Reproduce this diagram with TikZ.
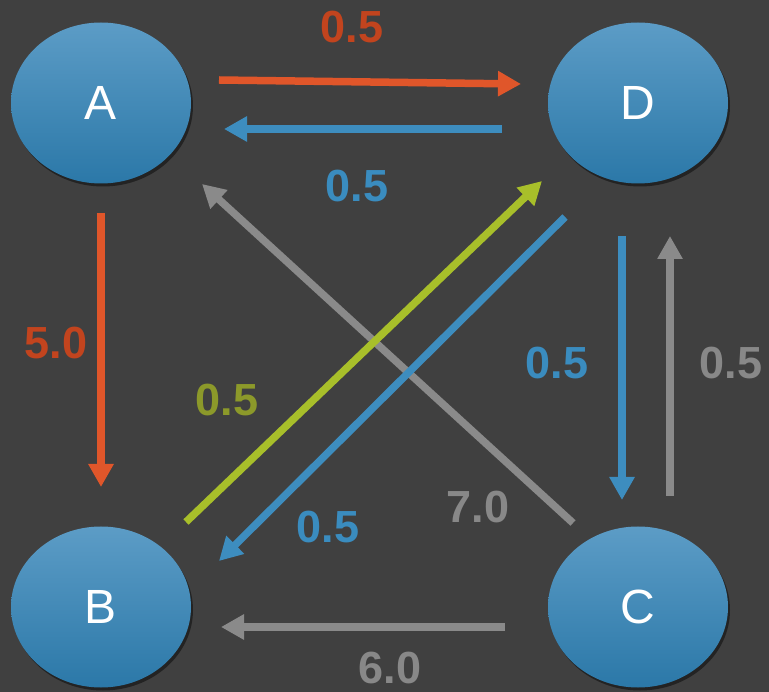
\documentclass[tikz,border=0pt]{standalone}
\usepackage{fontspec}
\setmainfont{Liberation Sans}
\usetikzlibrary{shapes.geometric,arrows.meta,shadows}
\definecolor{bg}{HTML}{404040}
\definecolor{nodetop}{HTML}{5C9CC6}
\definecolor{nodebot}{HTML}{2B78A8}
\definecolor{orline}{HTML}{E0562A}
\definecolor{orlab}{HTML}{C2441E}
\definecolor{blline}{HTML}{3D8DBF}
\definecolor{bllab}{HTML}{3A8CBF}
\definecolor{grline}{HTML}{8A8A8A}
\definecolor{grlab}{HTML}{888888}
\definecolor{gnline}{HTML}{A8BF2A}
\definecolor{gnlab}{HTML}{8C992A}
\tikzset{
  state/.style={ellipse, minimum width=180pt, minimum height=161pt, inner sep=0pt,
    top color=nodetop, bottom color=nodebot, draw=none,
    drop shadow={shadow xshift=2pt, shadow yshift=-3pt, opacity=0.45, fill=black},
    text=white, font=\fontsize{48}{48}\selectfont},
  edge/.style={line width=7.5pt, -{Triangle[length=23pt,width=24pt]}},
  wlab/.style={font=\fontsize{45}{45}\selectfont\bfseries, inner sep=0pt}
}
\begin{document}
\begin{tikzpicture}[x=1pt,y=-1pt]
\fill[bg] (0,0) rectangle (769,692);
\useasboundingbox (0,0) rectangle (769,692);
\node[state] (A) at (101,103) {A};
\node[state] (D) at (638,103) {D};
\node[state] (B) at (101,607) {B};
\node[state] (C) at (638,607) {C};
% connector end points
\coordinate (ad1) at (219,80);  \coordinate (ad2) at (521,84);
\coordinate (da1) at (502,129); \coordinate (da2) at (224,129);
\coordinate (ab1) at (101,213); \coordinate (ab2) at (101,487);
\coordinate (bd1) at (186,522); \coordinate (bd2) at (542,181);
\coordinate (db1) at (565,217); \coordinate (db2) at (219,561);
\coordinate (ca1) at (573,523); \coordinate (ca2) at (202,184);
\coordinate (dc1) at (622,236); \coordinate (dc2) at (622,500);
\coordinate (cd1) at (670,496); \coordinate (cd2) at (670,236);
\coordinate (cb1) at (505,627); \coordinate (cb2) at (221,627);
\draw[edge, grline] (ca1) -- (ca2);
\draw[edge, gnline] (bd1) -- (bd2);
\draw[edge, blline] (db1) -- (db2);
\draw[edge, orline] (ad1) -- (ad2);
\draw[edge, blline] (da1) -- (da2);
\draw[edge, orline] (ab1) -- (ab2);
\draw[edge, blline] (dc1) -- (dc2);
\draw[edge, grline] (cd1) -- (cd2);
\draw[edge, grline] (cb1) -- (cb2);
% labels
\node[wlab, text=orlab] (l1) at (352,27) {0.5};
\node[wlab, text=bllab] (l2) at (357,186) {0.5};
\node[wlab, text=orlab] (l3) at (56,343) {5.0};
\node[wlab, text=gnlab] (l4) at (227,400) {0.5};
\node[wlab, text=bllab] (l5) at (328,527) {0.5};
\node[wlab, text=grlab] (l6) at (478,507) {7.0};
\node[wlab, text=bllab] (l7) at (557,363) {0.5};
\node[wlab, text=grlab] (l8) at (731,363) {0.5};
\node[wlab, text=grlab] (l9) at (390,668) {6.0};
\end{tikzpicture}
\end{document}
